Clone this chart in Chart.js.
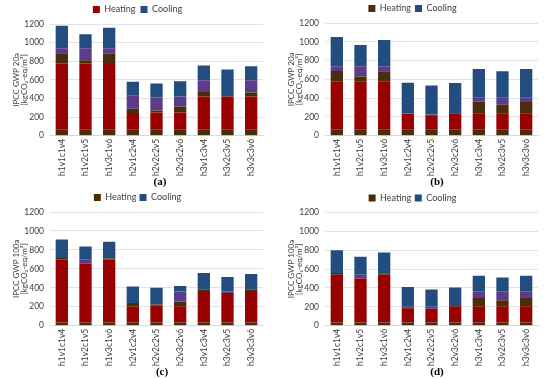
<!DOCTYPE html>
<html>
<head>
<meta charset="utf-8">
<script src="https://cdn.jsdelivr.net/npm/chart.js@4"></script>
<style>
  body { margin: 0; background: #fff; }
  .panel { position: absolute; width: 275px; height: 190px; }
  .panel canvas { position: absolute; left: 0; top: 0; }
  .cap { position: absolute; width: 40px; text-align: center; top: 175px;
         font: bold 11px "Liberation Serif", serif; color: #000; }
</style>
</head>
<body>
<div class="panel" style="left:0;top:0"><canvas id="ca" width="275" height="179"></canvas><div class="cap" style="left:140px">(a)</div></div>
<div class="panel" style="left:275px;top:0"><canvas id="cb" width="275" height="179"></canvas><div class="cap" style="left:142px">(b)</div></div>
<div class="panel" style="left:0;top:190px"><canvas id="cc" width="275" height="179"></canvas><div class="cap" style="left:142px">(c)</div></div>
<div class="panel" style="left:275px;top:190px"><canvas id="cd" width="275" height="179"></canvas><div class="cap" style="left:142px">(d)</div></div>
<script>
const labels = ["h1v1c1v4", "h1v2c1v5", "h1v3c1v6", "h2v1c2v4", "h2v2c2v5", "h2v3c2v6", "h3v1c3v4", "h3v2c3v5", "h3v3c3v6"];
const yTicks = [0, 200, 400, 600, 800, 1000, 1200];

// (a) IPCC GWP 20a
const aBase   = [70, 70, 70, 70, 70, 70, 70, 70, 70];
const aRed    = [705, 705, 700, 175, 180, 180, 350, 350, 350];
const aBrown  = [110, 35, 110, 45, 20, 65, 50, 0, 45];
const aPurple = [55, 130, 60, 140, 140, 105, 125, 0, 130];
const aBlue   = [240, 150, 220, 150, 150, 165, 160, 290, 150];

// (b) IPCC GWP 20a
const bBase   = [70, 70, 70, 70, 70, 70, 70, 70, 70];
const bRed    = [505, 505, 505, 165, 140, 170, 170, 170, 170];
const bBrown  = [115, 55, 110, 0, 0, 0, 125, 90, 120];
const bPurple = [50, 110, 55, 5, 15, 0, 40, 75, 45];
const bBlue   = [310, 225, 280, 325, 310, 320, 305, 280, 305];

// (c) IPCC GWP 100a
const cBase   = [35, 35, 35, 35, 35, 35, 35, 35, 35];
const cRed    = [665, 620, 665, 165, 175, 170, 330, 310, 330];
const cBrown  = [15, 0, 10, 40, 15, 50, 15, 0, 15];
const cPurple = [0, 40, 0, 0, 0, 105, 0, 15, 0];
const cBlue   = [195, 140, 175, 175, 175, 60, 175, 155, 165];

// (d) IPCC GWP 100a
const dBase   = [35, 35, 35, 35, 35, 35, 35, 35, 35];
const dRed    = [505, 465, 505, 150, 145, 170, 170, 170, 170];
const dBrown  = [20, 0, 15, 0, 0, 0, 90, 65, 90];
const dPurple = [0, 40, 0, 15, 20, 0, 70, 95, 70];
const dBlue   = [240, 190, 220, 210, 185, 200, 165, 145, 165];

const BROWN = "#4a2e0c", RED = "#990000", PURPLE = "#5a3c8a", BLUE = "#234d7e";

function make_chart(id, ytitle, parts, legendIdx, legendPad) {
  const cols = [BROWN, RED, BROWN, PURPLE, BLUE];
  const names = ["Heating", "Heating", "Heating", "Cooling", "Cooling"];
  const datasets = parts.map(function (d, i) {
    return {
      label: names[i],
      data: d,
      backgroundColor: cols[i],
      borderWidth: 0,
      barPercentage: 0.52,
      categoryPercentage: 1.0
    };
  });

  new Chart(id, {
    type: "bar",
    data: { labels: labels, datasets: datasets },
    options: {
      responsive: false,
      animation: false,
      layout: { padding: { left: 12, right: 12, top: 0, bottom: 0 } },
      plugins: {
        tooltip: { enabled: false },
        legend: {
          position: "top",
          labels: {
            filter: function (item) { return legendIdx.indexOf(item.datasetIndex) >= 0; },
            boxWidth: 7, boxHeight: 7, padding: legendPad,
            color: "#404040",
            font: { family: "Lato", size: 9 }
          }
        }
      },
      scales: {
        x: {
          stacked: true,
          grid: { display: false, drawTicks: false },
          border: { color: "#d9d9d9" },
          ticks: { maxRotation: 90, minRotation: 90, color: "#404040", padding: 3,
                   font: { family: "Lato", size: 8.5 } }
        },
        y: {
          stacked: true,
          min: 0, max: 1200,
          afterBuildTicks: function (axis) { axis.ticks = yTicks.map(function (v) { return { value: v }; }); },
          afterFit: function (axis) { axis.width = 38; },
          grid: { color: "#e3e3e3", drawTicks: false },
          border: { display: false },
          ticks: { color: "#404040", padding: 6, font: { family: "Lato", size: 8.5 },
                   callback: function (v) { return String(v); } },
          title: {
            display: true,
            text: [ytitle, "[kgCO\u2082-eq/m\u00b2]"],
            color: "#404040",
            padding: { top: 0, bottom: 0 },
            font: { family: "Lato", size: 8, lineHeight: 1.05 }
          }
        }
      }
    }
  });
}

make_chart("ca", "IPCC GWP 20a",  [aBase, aRed, aBrown, aPurple, aBlue], [1, 4], 5);
make_chart("cb", "IPCC GWP 20a",  [bBase, bRed, bBrown, bPurple, bBlue], [0, 4], 4);
make_chart("cc", "IPCC GWP 100a", [cBase, cRed, cBrown, cPurple, cBlue], [0, 4], 3);
make_chart("cd", "IPCC GWP 100a", [dBase, dRed, dBrown, dPurple, dBlue], [0, 4], 3.5);
</script>
</body>
</html>
